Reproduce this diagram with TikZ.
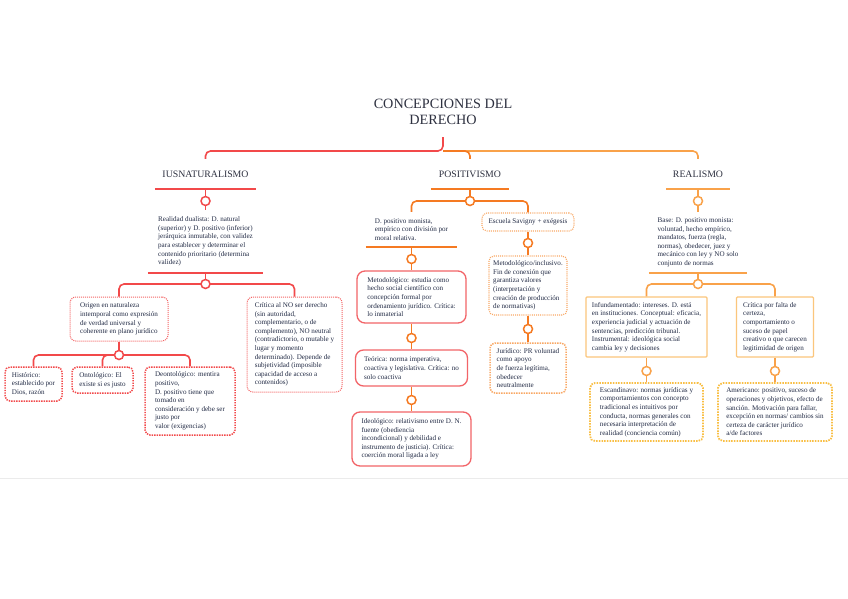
\documentclass[tikz,border=0pt]{standalone}
\usepackage{fontspec}
\setmainfont{Liberation Serif}
\definecolor{cred}{HTML}{F2494A}
\definecolor{cora}{HTML}{F57A22}
\definecolor{clor}{HTML}{F9A24A}
\definecolor{cpbox}{HTML}{F26468}
\definecolor{csav}{HTML}{F9A865}
\definecolor{crbox}{HTML}{FBC67C}
\definecolor{cyel}{HTML}{F9BF45}
\definecolor{ctext}{HTML}{222B45}
\definecolor{ctitle}{HTML}{2E3140}
\begin{document}
\begin{tikzpicture}[x=1pt,y=-1pt,
  basetxt/.style={font=\fontsize{7.1}{8.6}\selectfont, text=ctext, align=left, inner xsep=3.5pt, inner ysep=2pt},
  plaintxt/.style={basetxt},
  iusbox/.style={basetxt, draw=cred!85, rounded corners=6pt, line width=1pt, dash pattern=on 1pt off 1pt},
  iusboxb/.style={basetxt, draw=cred, rounded corners=5pt, line width=1.5pt, dash pattern=on 1.4pt off 1.1pt},
  posbox/.style={basetxt, draw=cpbox, rounded corners=8pt, line width=1.3pt},
  savbox/.style={basetxt, draw=csav, rounded corners=5pt, line width=1.1pt, dash pattern=on 1pt off 1.1pt},
  savboxb/.style={basetxt, draw=csav, rounded corners=5pt, line width=1.5pt, dash pattern=on 1.4pt off 1.1pt},
  relbox/.style={basetxt, draw=crbox, line width=1.2pt, rounded corners=1pt},
  relboxb/.style={basetxt, draw=cyel, rounded corners=5pt, line width=1.8pt, dash pattern=on 1.5pt off 1.2pt},
  cat/.style={font=\fontsize{9.8}{11}\selectfont, text=ctitle, inner sep=0pt, minimum height=30},
  lred/.style={draw=cred, line width=1.6pt},
  lora/.style={draw=cora, line width=1.6pt},
  llor/.style={draw=clor, line width=1.6pt},
  jcirc/.style={circle, fill=white, line width=1.5pt, minimum size=9pt, inner sep=0pt},
]
\useasboundingbox (0,0) rectangle (848,599);
\fill[white] (0,0) rectangle (848,599);
\draw[black!8, line width=0.6pt] (0,478) -- (848,478);

% title and categories
\node[font=\fontsize{14.2}{16.5}\selectfont, text=ctitle, align=center, minimum height=50, inner sep=0pt] (root) at (443,112) {CONCEPCIONES DEL\\DERECHO};
\node[cat, minimum width=101] (ius) at (205.5,174) {IUSNATURALISMO};
\node[cat, minimum width=78] (pos) at (470,174) {POSITIVISMO};
\node[cat, minimum width=63] (rea) at (698,174) {REALISMO};

% iusnaturalismo
\node[plaintxt, minimum width=115, minimum height=63] (real) at (205.5,241.5) {Realidad dualista: D. natural\\(superior) y D. positivo (inferior)\\jerárquica inmutable, con validez\\para establecer y determinar el\\contenido prioritario (determina\\validez)};
\node[iusbox, minimum width=98, minimum height=44] (origen) at (119,319) {Origen en naturaleza\\intemporal como expresión\\de verdad universal y\\coherente en plano jurídico};
\node[iusbox, minimum width=95, minimum height=95] (crit1) at (294.5,344.5) {Crítica al NO ser derecho\\(sin autoridad,\\complementario, o de\\complemento), NO neutral\\(contradictorio, o mutable y\\lugar y momento\\determinado). Depende de\\subjetividad (imposible\\capacidad de acceso a\\contenidos)};
\node[iusboxb, minimum width=57, minimum height=34] (hist) at (33.5,384) {Histórico:\\establecido por\\Dios, razón};
\node[iusboxb, minimum width=61, minimum height=26] (ont) at (102.5,380) {Ontológico: El\\existe si es justo};
\node[iusboxb, minimum width=90, minimum height=68] (deon) at (190,401) {Deontológico: mentira\\positivo,\\D. positivo tiene que\\tomado en\\consideración y debe ser\\justo por\\valor (exigencias)};

% positivismo
\node[plaintxt, minimum width=91, minimum height=35] (dpos) at (411.5,229.5) {D. positivo monista,\\empírico con división por\\moral relativa.};
\node[savbox, minimum width=92, minimum height=18] (sav) at (528,222) {Escuela Savigny + exégesis};
\node[posbox, minimum width=109, minimum height=52] (metod) at (411.5,297) {Metodológico: estudia como\\hecho social científico con\\concepción formal por\\ordenamiento jurídico. Crítica:\\lo inmaterial};
\node[posbox, minimum width=112, minimum height=36] (teor) at (411.5,368) {Teórica: norma imperativa,\\coactiva y legislativa. Crítica: no\\solo coactiva};
\node[posbox, minimum width=119, minimum height=54] (ideo) at (411.5,439) {Ideológico: relativismo entre D. N.\\fuente (obediencia\\incondicional) y debilidad e\\instrumento de justicia). Crítica:\\coerción moral ligada a ley};
\node[savbox, minimum width=78, minimum height=59] (metinc) at (528,285.5) {Metodológico/inclusivo.\\Fin de conexión que\\garantiza valores\\(interpretación y\\creación de producción\\de normativas)};
\node[savboxb, minimum width=76, minimum height=50] (jur) at (528,368) {Jurídico: PR voluntad\\como apoyo\\de fuerza legítima,\\obedecer\\neutralmente};

% realismo
\node[plaintxt, minimum width=98, minimum height=61] (base) at (698,242.5) {Base: D. positivo monista:\\voluntad, hecho empírico,\\mandatos, fuerza (regla,\\normas), obedecer, juez y\\mecánico con ley y NO solo\\conjunto de normas};
\node[relbox, minimum width=121, minimum height=60] (infund) at (646.5,327) {Infundamentado: intereses. D. está\\en instituciones. Conceptual: eficacia,\\experiencia judicial y actuación de\\sentencias, predicción tribunal.\\Instrumental: ideológica social\\cambia ley y decisiones};
\node[relbox, minimum width=77, minimum height=60] (critr) at (775,327) {Crítica por falta de\\certeza,\\comportamiento o\\suceso de papel\\creativo o que carecen\\legitimidad de origen};
\node[relboxb, minimum width=113, minimum height=58] (escand) at (646.5,412) {Escandinavo: normas jurídicas y\\comportamientos con concepto\\tradicional es intuitivos por\\conducta, normas generales con\\necesaria interpretación de\\realidad (conciencia común)};
\node[relboxb, minimum width=114, minimum height=58] (amer) at (775,412) {Americano: positivo, suceso de\\operaciones y objetivos, efecto de\\sanción. Motivación para fallar,\\excepción en normas/ cambios sin\\certeza de carácter jurídico\\a/de factores};

% junctions
\coordinate (j0) at (443,151);
\coordinate (j1) at (205.5,201);
\coordinate (j2) at (205.5,284);
\coordinate (j3) at (119,355);
\coordinate (j4) at (470,201);
\coordinate (j5) at (411.5,259);
\coordinate (j6) at (411.5,338);
\coordinate (j7) at (411.5,400);
\coordinate (j8) at (528,243);
\coordinate (j9) at (528,329);
\coordinate (j10) at (698,201);
\coordinate (j11) at (698,284);
\coordinate (j12) at (646.5,371);
\coordinate (j13) at (775,371);

% trunk
\draw[llor, rounded corners=5pt] (j0) -| (rea.north);
\draw[lora, rounded corners=5pt] (j0) -| (pos.north);
\draw[lred, rounded corners=5pt] (root.south) -- (j0) -| (ius.north);

% underlines
\draw[lred] (ius.south west) -- (ius.south east);
\draw[lora] (pos.south west) -- (pos.south east);
\draw[llor] (rea.south west) -- (rea.south east);
\draw[lred] (real.south west) -- (real.south east);
\draw[lora] (dpos.south west) -- (dpos.south east);
\draw[llor] (base.south west) -- (base.south east);

% iusnaturalismo connectors
\draw[lred] (ius.south) -- (real.north);
\draw[lred] (real.south) -- (j2);
\draw[lred, rounded corners=5pt] (origen.north) |- (j2) -| (crit1.north);
\draw[lred] (origen.south) -- (j3);
\draw[lred, rounded corners=5pt] (hist.north) |- (j3) -| (deon.north);
\draw[lred, rounded corners=5pt] (ont.north) |- (j3);

% positivismo connectors
\draw[lora] (pos.south) -- (j4);
\draw[lora, rounded corners=5pt] (dpos.north) |- (j4) -| (sav.north);
\draw[lora] (dpos.south) -- (metod.north);
\draw[lora] (metod.south) -- (teor.north);
\draw[lora] (teor.south) -- (ideo.north);
\draw[lora] (sav.south) -- (metinc.north);
\draw[lora] (metinc.south) -- (jur.north);

% realismo connectors
\draw[llor] (rea.south) -- (base.north);
\draw[llor] (base.south) -- (j11);
\draw[llor, rounded corners=5pt] (infund.north) |- (j11) -| (critr.north);
\draw[llor] (infund.south) -- (escand.north);
\draw[llor] (critr.south) -- (amer.north);

% junction circles
\foreach \j in {j1,j2,j3} \node[jcirc, draw=cred] at (\j) {};
\foreach \j in {j4,j5,j6,j7,j8,j9} \node[jcirc, draw=cora] at (\j) {};
\foreach \j in {j10,j11,j12,j13} \node[jcirc, draw=clor] at (\j) {};
\end{tikzpicture}
\end{document}
